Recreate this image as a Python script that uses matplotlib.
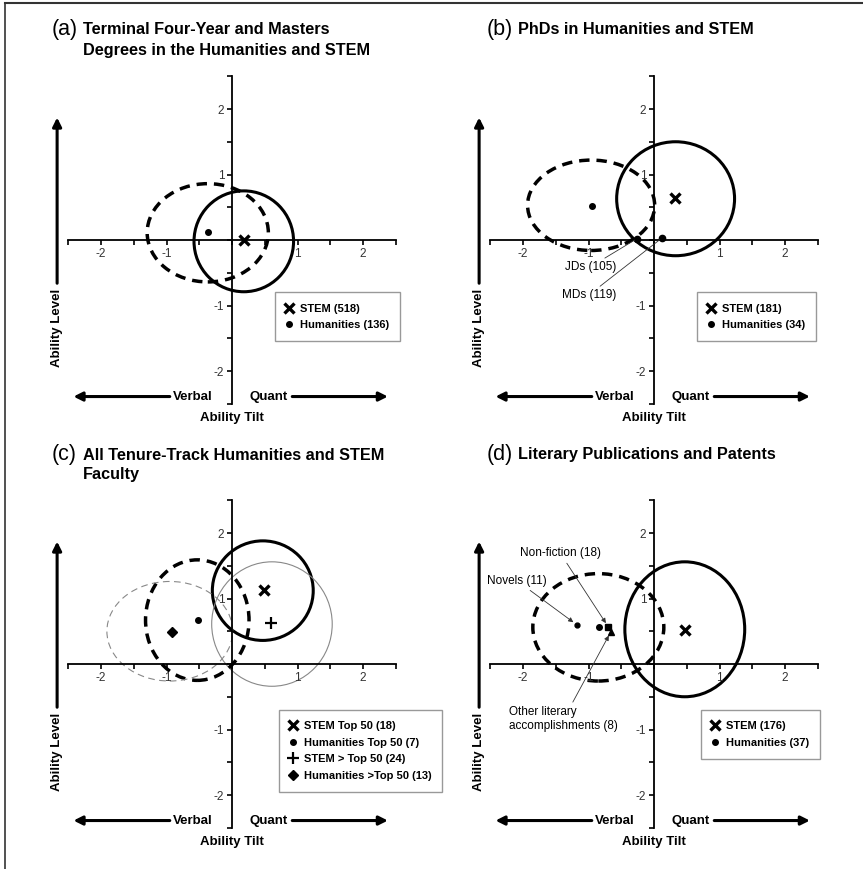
import matplotlib.pyplot as plt
import numpy as np
from matplotlib.patches import Ellipse
from matplotlib.lines import Line2D

plt.rcParams['font.family'] = ['Liberation Sans', 'DejaVu Sans']

W, H = 863, 869
S = 65.5  # pixels per unit

# ---- data ----
tick_vals = [-2.5, -2, -1.5, -1, -0.5, 0, 0.5, 1, 1.5, 2, 2.5]
tick_text = ['', '-2', '', '-1', '', '', '', '1', '', '2', '']

# (a)
a_cx = [0.18, -0.37]
a_cy = [-0.02, 0.11]
a_w = [1.52, 1.85]
a_h = [1.54, 1.50]
a_px = [0.18, -0.37]
a_py = [0.0, 0.12]
a_names = ['STEM (518)', 'Humanities (136)']

# (b)
b_cx = [0.33, -0.96]
b_cy = [0.63, 0.53]
b_w = [1.80, 1.94]
b_h = [1.74, 1.38]
b_px = [0.32, -0.95]
b_py = [0.64, 0.52]
b_names = ['STEM (181)', 'Humanities (34)']
b_extra_x = [-0.26, 0.12]
b_extra_y = [0.02, 0.03]
b_extra_names = ['JDs (105)', 'MDs (119)']

# (c)
c_cx = [0.47, 0.61, -0.53, -0.95]
c_cy = [1.12, 0.61, 0.67, 0.50]
c_w = [1.54, 1.84, 1.58, 1.92]
c_h = [1.52, 1.90, 1.84, 1.52]
c_px = [0.49, -0.52, 0.60, -0.92]
c_py = [1.13, 0.67, 0.63, 0.49]
c_names = ['STEM Top 50 (18)', 'Humanities Top 50 (7)',
           'STEM > Top 50 (24)', 'Humanities >Top 50 (13)']

# (d)
d_cx = [0.47, -0.85]
d_cy = [0.53, 0.56]
d_w = [1.83, 2.00]
d_h = [2.06, 1.64]
d_px = [0.47, -0.84]
d_py = [0.52, 0.57]
d_names = ['STEM (176)', 'Humanities (37)']
d_extra_x = [-1.18, -0.70, -0.66]
d_extra_y = [0.60, 0.57, 0.49]
d_extra_names = ['Novels (11)', 'Non-fiction (18)', 'Other literary\naccomplishments (8)']

solid = dict(ls='-', lw=2.2, ec='black')
dashed = dict(ls=(0, (3, 2)), lw=2.5, ec='black')
thin = dict(ls='-', lw=0.8, ec='#888888')
thin_dash = dict(ls=(0, (6, 4)), lw=0.8, ec='#888888')

stem_mk = dict(marker='x', ms=6.5, mew=2.4, color='black', ls='none')
hum_mk = dict(marker='o', ms=4, color='black', ls='none')
plus_mk = dict(marker='+', ms=9, mew=1.6, color='black', ls='none')
dia_mk = dict(marker='D', ms=5, color='black', ls='none')

fig = plt.figure(figsize=(W / 100, H / 100), dpi=100)

# border lines (top and left)
fig.add_artist(Line2D([5 / W, 1], [1 - 3 / H, 1 - 3 / H], color='#333333', lw=1.5))
fig.add_artist(Line2D([5 / W, 5 / W], [0, 1 - 3 / H], color='#333333', lw=1.2))


def make_axes(ox, oy):
    xl = (-3.0, 2.75)
    yl = (-2.95, 2.55)
    left = ox + xl[0] * S
    right = ox + xl[1] * S
    top = oy - yl[1] * S
    bottom = oy - yl[0] * S
    ax = fig.add_axes([left / W, 1 - bottom / H, (right - left) / W, (bottom - top) / H])
    ax.set_xlim(*xl)
    ax.set_ylim(*yl)
    for sp in ['top', 'right']:
        ax.spines[sp].set_visible(False)
    for sp in ['left', 'bottom']:
        ax.spines[sp].set_position(('data', 0))
        ax.spines[sp].set_bounds(-2.5, 2.5)
        ax.spines[sp].set_linewidth(1.3)
    ax.set_xticks(tick_vals)
    ax.set_xticklabels(tick_text)
    ax.set_yticks(tick_vals)
    ax.set_yticklabels(tick_text)
    ax.tick_params(direction='out', length=3.5, width=1.2, labelsize=8.5,
                   labelcolor='#333333', pad=2)
    ax.patch.set_visible(False)

    # axis arrows and labels
    ax.annotate('', xy=(-2.67, 1.87), xytext=(-2.67, -0.66),
                arrowprops=dict(arrowstyle='-|>', lw=2.2, color='black', mutation_scale=13,
                                shrinkA=0, shrinkB=0))
    ax.text(-2.67, -0.75, 'Ability Level', rotation=90, ha='center', va='top',
            fontsize=9.5, fontweight='bold')
    ax.annotate('', xy=(-2.42, -2.39), xytext=(-0.95, -2.39),
                arrowprops=dict(arrowstyle='-|>', lw=2.2, color='black', mutation_scale=13,
                                shrinkA=0, shrinkB=0))
    ax.annotate('', xy=(2.38, -2.39), xytext=(0.92, -2.39),
                arrowprops=dict(arrowstyle='-|>', lw=2.2, color='black', mutation_scale=13,
                                shrinkA=0, shrinkB=0))
    ax.text(-0.3, -2.39, 'Verbal', ha='right', va='center', fontsize=9.5, fontweight='bold')
    ax.text(0.27, -2.39, 'Quant', ha='left', va='center', fontsize=9.5, fontweight='bold')
    ax.text(0, -2.72, 'Ability Tilt', ha='center', va='center', fontsize=9.5, fontweight='bold')
    return ax


def draw_ellipses(ax, cx, cy, w, h, styles):
    for x, y, ww, hh, st in zip(cx, cy, w, h, styles):
        ax.add_patch(Ellipse((x, y), ww, hh, fill=False, **st))


def add_legend(ax, handles, names, x0, y0):
    leg = ax.legend(handles, names, loc='upper left', bbox_to_anchor=(x0, y0),
                    bbox_transform=ax.transData, fancybox=False, framealpha=1,
                    edgecolor='#999999', prop=dict(size=8, weight='bold'),
                    handlelength=0.5, handletextpad=0.7, borderpad=1.0,
                    labelspacing=0.6, borderaxespad=0)
    leg.get_frame().set_linewidth(1.0)


def title(px_x, px_y, letter, lines):
    fig.text(px_x / W, 1 - (px_y - 1) / H, letter, fontsize=15.5, ha='left', va='center')
    for i, ln in enumerate(lines):
        fig.text((px_x + 31) / W, 1 - (px_y + 20 * i) / H, ln, fontsize=11.7,
                 fontweight='bold', ha='left', va='center')


# ---- (a) ----
ax = make_axes(232, 240)
draw_ellipses(ax, a_cx, a_cy, a_w, a_h, [solid, dashed])
h1, = ax.plot([a_px[0]], [a_py[0]], **stem_mk)
h2, = ax.plot([a_px[1]], [a_py[1]], **hum_mk)
add_legend(ax, [h1, h2], a_names, 0.66, -0.8)
title(52, 30, '(a)', ['Terminal Four-Year and Masters', 'Degrees in the Humanities and STEM'])

# ---- (b) ----
ax = make_axes(654, 240)
draw_ellipses(ax, b_cx, b_cy, b_w, b_h, [solid, dashed])
h1, = ax.plot([b_px[0]], [b_py[0]], **stem_mk)
h2, = ax.plot([b_px[1]], [b_py[1]], **hum_mk)
ax.plot(b_extra_x, b_extra_y, marker='o', ms=4.5, color='black', ls='none')
ax.annotate(b_extra_names[0], xy=(b_extra_x[0], b_extra_y[0]), xytext=(-0.58, -0.41),
            ha='right', va='center', fontsize=8.5,
            arrowprops=dict(arrowstyle='-', lw=0.6, color='#333333', shrinkA=0, shrinkB=2))
ax.annotate(b_extra_names[1], xy=(b_extra_x[1], b_extra_y[1]), xytext=(-0.58, -0.84),
            ha='right', va='center', fontsize=8.5,
            arrowprops=dict(arrowstyle='-', lw=0.6, color='#333333', shrinkA=0, shrinkB=2))
add_legend(ax, [h1, h2], b_names, 0.66, -0.8)
title(487, 30, '(b)', ['PhDs in Humanities and STEM'])

# ---- (c) ----
ax = make_axes(232, 664)
draw_ellipses(ax, c_cx, c_cy, c_w, c_h, [solid, thin, dashed, thin_dash])
h1, = ax.plot([c_px[0]], [c_py[0]], **stem_mk)
h2, = ax.plot([c_px[1]], [c_py[1]], **hum_mk)
h3, = ax.plot([c_px[2]], [c_py[2]], **plus_mk)
h4, = ax.plot([c_px[3]], [c_py[3]], **dia_mk)
add_legend(ax, [h1, h2, h3, h4], c_names, 0.72, -0.7)
title(52, 455, '(c)', ['All Tenure-Track Humanities and STEM', 'Faculty'])

# ---- (d) ----
ax = make_axes(654, 664)
draw_ellipses(ax, d_cx, d_cy, d_w, d_h, [solid, dashed])
h1, = ax.plot([d_px[0]], [d_py[0]], **stem_mk)
h2, = ax.plot([d_px[1]], [d_py[1]], **hum_mk)
ax.plot([d_extra_x[0]], [d_extra_y[0]], marker='o', ms=3.5, color='black', ls='none')
ax.plot([d_extra_x[1]], [d_extra_y[1]], marker='s', ms=4, color='black', ls='none')
ax.plot([d_extra_x[2]], [d_extra_y[2]], marker='^', ms=4, color='black', ls='none')
arr = dict(arrowstyle='-|>', lw=0.6, color='#333333', mutation_scale=7, shrinkA=1, shrinkB=3)
ax.annotate(d_extra_names[0], xy=(d_extra_x[0], d_extra_y[0]), xytext=(-2.09, 1.27),
            ha='center', va='center', fontsize=8.5, arrowprops=arr)
ax.annotate(d_extra_names[1], xy=(d_extra_x[1], d_extra_y[1]), xytext=(-1.43, 1.69),
            ha='center', va='center', fontsize=8.5, arrowprops=arr)
ax.annotate(d_extra_names[2], xy=(d_extra_x[2], d_extra_y[2]), xytext=(-2.21, -0.84),
            ha='left', va='center', fontsize=8.5, arrowprops=arr)
add_legend(ax, [h1, h2], d_names, 0.72, -0.7)
title(487, 455, '(d)', ['Literary Publications and Patents'])

fig.savefig('out.png', dpi=100)
